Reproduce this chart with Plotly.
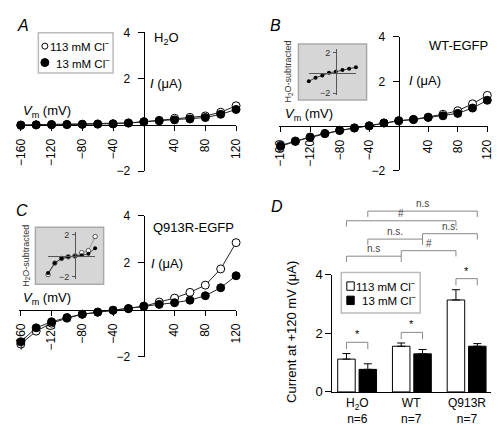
import plotly.graph_objects as go

W, H = 500, 425
FONT = "Liberation Sans, Arial, Helvetica, sans-serif"

# ---------------- data ----------------
voltage = [-160, -140, -120, -100, -80, -60, -40, -20, 0, 20, 40, 60, 80, 100, 120]
a_113 = [-0.02, 0.0, 0.01, 0.02, 0.03, 0.04, 0.05, 0.08, 0.14, 0.20, 0.29, 0.33, 0.39, 0.55, 0.83]
a_13 = [0.00, 0.01, 0.02, 0.02, 0.03, 0.04, 0.05, 0.09, 0.14, 0.18, 0.22, 0.26, 0.32, 0.46, 0.67]
b_113 = [-0.88, -0.68, -0.50, -0.34, -0.20, -0.09, 0.00, 0.13, 0.23, 0.29, 0.39, 0.52, 0.68, 0.99, 1.37]
b_13 = [-0.92, -0.70, -0.52, -0.35, -0.21, -0.10, 0.00, 0.13, 0.23, 0.28, 0.38, 0.45, 0.56, 0.80, 1.15]
c_113 = [-1.47, -0.92, -0.58, -0.37, -0.20, -0.11, -0.03, 0.04, 0.14, 0.32, 0.49, 0.73, 1.04, 1.73, 2.85]
c_13 = [-1.37, -0.78, -0.52, -0.34, -0.20, -0.11, -0.03, 0.04, 0.14, 0.22, 0.29, 0.40, 0.59, 0.93, 1.44]

inset_voltage = [-160, -120, -80, -40, 0, 40, 80, 120]
b_sub_13 = [-0.83, -0.48, -0.26, 0.00, 0.12, 0.29, 0.41, 0.55]
c_sub_113 = [-1.79, -0.69, -0.25, -0.09, 0.00, 0.30, 0.50, 1.85]
c_sub_13 = [-1.65, -0.69, -0.25, -0.09, 0.00, 0.05, 0.20, 0.74]

mv_ticks = [-160, -120, -80, -40, 40, 80, 120]
ua_ticks = [-2, 2, 4]

groups = ["H2O", "WT", "Q913R"]
group_labels = ["H<sub>2</sub>O", "WT", "Q913R"]
group_n = [6, 7, 7]
d_113 = [1.12, 1.56, 3.14]
d_113_err = [0.19, 0.11, 0.35]
d_13 = [0.77, 1.30, 1.56]
d_13_err = [0.19, 0.15, 0.09]
d_ticks = [0, 2, 4]

series_names = ["113 mM Cl<sup>−</sup>", "13 mM Cl<sup>−</sup>"]

# comparisons: (group a, series a, group b, series b, label)
comparisons = [
    ("H2O", 0, "H2O", 1, "*"),
    ("WT", 0, "WT", 1, "*"),
    ("Q913R", 0, "Q913R", 1, "*"),
    ("H2O", 0, "WT", 0, "n.s"),
    ("WT", 0, "Q913R", 0, "#"),
    ("H2O", 1, "WT", 1, "n.s."),
    ("WT", 1, "Q913R", 1, "n.s."),
    ("H2O", 0, "Q913R", 0, "#"),
    ("H2O", 1, "Q913R", 1, "n.s"),
]
# layout (pixel rows) of the brackets, same order
bracket_rows = [339.3, 329.0, 273.3, 250.0, 244.3, 232.3, 226.7, 213.3, 203.3]


def px(x):
    return x / W


def py(y):
    return 1 - y / H


def fmt(v):
    return str(v).replace("-", "\u2212")


fig = go.Figure()

open_marker = dict(symbol="circle", color="white", size=8, line=dict(color="black", width=1))
fill_marker = dict(symbol="circle", color="black", size=8, line=dict(color="black", width=1))
line_style = dict(color="#222", width=1)

for ax, y113, y13 in [("", a_113, a_13), ("2", b_113, b_13), ("3", c_113, c_13)]:
    fig.add_trace(go.Scatter(x=voltage, y=y113, mode="lines+markers", marker=open_marker,
                             line=line_style, cliponaxis=False, showlegend=False,
                             xaxis="x" + ax, yaxis="y" + ax))
    fig.add_trace(go.Scatter(x=voltage, y=y13, mode="lines+markers", marker=fill_marker,
                             line=line_style, cliponaxis=False, showlegend=False,
                             xaxis="x" + ax, yaxis="y" + ax))

# insets
fig.add_trace(go.Scatter(x=inset_voltage, y=b_sub_13, mode="lines+markers",
                         marker=dict(color="black", size=4), line=dict(color="#222", width=0.8),
                         cliponaxis=False, showlegend=False, xaxis="x5", yaxis="y5"))
fig.add_trace(go.Scatter(x=inset_voltage, y=c_sub_113, mode="lines+markers",
                         marker=dict(color="white", size=4.5, line=dict(color="#333", width=0.8)),
                         line=dict(color="#888", width=0.8),
                         cliponaxis=False, showlegend=False, xaxis="x6", yaxis="y6"))
fig.add_trace(go.Scatter(x=inset_voltage, y=c_sub_13, mode="lines+markers",
                         marker=dict(color="black", size=4), line=dict(color="#222", width=0.8),
                         cliponaxis=False, showlegend=False, xaxis="x6", yaxis="y6"))

# bars (panel D)
gx = list(range(len(groups)))
fig.add_trace(go.Bar(x=gx, y=d_113, name=series_names[0], marker=dict(color="white", line=dict(color="black", width=1)),
                     error_y=dict(type="data", array=d_113_err, arrayminus=[0] * 3, symmetric=False,
                                  color="black", thickness=1, width=4),
                     showlegend=False, xaxis="x4", yaxis="y4"))
fig.add_trace(go.Bar(x=gx, y=d_13, name=series_names[1], marker=dict(color="black", line=dict(color="black", width=1)),
                     error_y=dict(type="data", array=d_13_err, arrayminus=[0] * 3, symmetric=False,
                                  color="black", thickness=1, width=4),
                     showlegend=False, xaxis="x4", yaxis="y4"))

axis_common = dict(showline=True, linecolor="black", linewidth=1.3, showgrid=False, zeroline=False,
                   ticks="outside", tickcolor="black", tickwidth=1.3,
                   tickfont=dict(size=12, color="black", family=FONT))


def iv_x(d0, d1, pos):
    return dict(axis_common, domain=[px(d0), px(d1)], range=[-162, 120.5], anchor="free", position=pos,
                tickvals=mv_ticks, ticktext=[fmt(v) for v in mv_ticks], tickangle=-90, ticklen=5,
                ticklabelstandoff=3)


def iv_y(t, b, pos):
    return dict(axis_common, domain=[py(b), py(t)], range=[-2, 4], anchor="free", position=pos,
                tickvals=ua_ticks, ticktext=[fmt(v) for v in ua_ticks], ticklen=6, ticklabelstandoff=5)


inset_common = dict(showline=True, linecolor="#555", linewidth=0.8, showgrid=False, zeroline=False,
                    tickfont=dict(size=9, color="#333", family=FONT))

fig.update_layout(
    width=W, height=H, margin=dict(l=0, r=0, t=0, b=0),
    paper_bgcolor="white", plot_bgcolor="rgba(0,0,0,0)",
    font=dict(family=FONT, color="black", size=12),
    barmode="group", bargap=0.22, bargroupgap=0.18,
    xaxis=iv_x(5.4, 228.4, py(114)),
    yaxis=iv_y(18, 162, px(133.3)),
    xaxis2=iv_x(272.2, 486.3, py(114.9)),
    yaxis2=iv_y(22.7, 161, px(395)),
    xaxis3=iv_x(5.4, 228.4, py(305.3)),
    yaxis3=iv_y(208, 354, px(133.3)),
    xaxis4=dict(axis_common, domain=[px(327), px(490)], range=[-0.45, 2.45], anchor="y4",
                tickvals=gx, showticklabels=False, ticks=""),
    yaxis4=dict(axis_common, domain=[py(390.7), py(269.3)], range=[0, 4], anchor="x4",
                tickvals=d_ticks, ticktext=[str(v) for v in d_ticks], ticklen=6,
                tickfont=dict(size=13, color="black", family=FONT)),
    xaxis5=dict(inset_common, domain=[px(302.7), px(351)], range=[-160, 120], anchor="free",
                position=py(59.7), showticklabels=False, ticks=""),
    yaxis5=dict(inset_common, domain=[py(83.3), py(35)], range=[-2.22, 2.38], anchor="free",
                position=px(330.5), tickvals=[-2, 2], ticktext=["\u22122", "2"], ticks="outside",
                ticklen=3, tickcolor="#555", tickwidth=0.8, ticklabelstandoff=1),
    xaxis6=dict(inset_common, domain=[px(35), px(83.3)], range=[-160, 120], anchor="free",
                position=py(249.7), showticklabels=False, ticks=""),
    yaxis6=dict(inset_common, domain=[py(273.3), py(225)], range=[-2.18, 2.28], anchor="free",
                position=px(62.6), tickvals=[-2, 2], ticktext=["\u22122", "2"], ticks="outside",
                ticklen=3, tickcolor="#555", tickwidth=0.8, ticklabelstandoff=1),
)

shapes = []
annotations = []


def text(x, y, s, size=13, xanchor="left", yanchor="middle", color="black", angle=0):
    annotations.append(dict(x=px(x), y=py(y), xref="paper", yref="paper", text=s, showarrow=False,
                            xanchor=xanchor, yanchor=yanchor, textangle=angle, borderpad=0,
                            font=dict(size=size, color=color, family=FONT)))


# inset boxes
for x0, y0, x1, y1 in [(292, 30, 362, 88), (22, 220, 92, 279)]:
    shapes.append(dict(type="rect", xref="paper", yref="paper", x0=px(x0), x1=px(x1), y0=py(y1), y1=py(y0),
                       fillcolor="#d6d6d6", line=dict(color="#aaaaaa", width=1.5), layer="below"))

# panel letters
text(2, 11, "<i>A</i>", size=16)
text(262, 11, "<i>B</i>", size=16)
text(1, 203, "<i>C</i>", size=16)
text(263, 198, "<i>D</i>", size=16)

vm = "<i>V</i><sub>m</sub> (mV)"
ia = "<i>I</i> (\u03bcA)"
text(143, 24, "H<sub>2</sub>O")
text(139, 71, ia)
text(8, 100, vm)
text(425, 32, "WT-EGFP")
text(405, 68, ia)
text(277, 103, vm)
text(142, 220, "Q913R-EGFP")
text(140, 257.7, ia)
text(8, 294, vm)
text(282, 59, "H<sub>2</sub>O-subtracted", size=9, xanchor="center", angle=-90, color="#333")
text(12, 250, "H<sub>2</sub>O-subtracted", size=9, xanchor="center", angle=-90, color="#333")

# panel D y title
text(285, 329, "Current at +120 mV (\u03bcA)", size=13, xanchor="center", angle=-90)

# category names with group sizes under the bars
for i, (lab, n) in enumerate(zip(group_labels, group_n)):
    annotations.append(dict(x=i, y=py(410.5), xref="x4", yref="paper", text="%s<br>n=%d" % (lab, n),
                            showarrow=False, xanchor="center", yanchor="middle", borderpad=0,
                            font=dict(size=12, color="black", family=FONT)))

# legend panel A
shapes.append(dict(type="rect", xref="paper", yref="paper", x0=px(25), x1=px(101.7), y0=py(60), y1=py(18.3),
                   fillcolor="white", line=dict(color="#bbbbbb", width=1.5)))
for yy, fill, r in [(32.3, "white", 3), (49.3, "black", 4)]:
    shapes.append(dict(type="circle", xref="paper", yref="paper", xsizemode="pixel", ysizemode="pixel",
                       xanchor=px(31.7), yanchor=py(yy), x0=-r, x1=r, y0=-r, y1=r,
                       fillcolor=fill, line=dict(color="black", width=1)))
text(100, 32.3, series_names[0], size=11.5, xanchor="right")
text(100, 49.3, series_names[1], size=11.5, xanchor="right")

# legend panel D
shapes.append(dict(type="rect", xref="paper", yref="paper", x0=px(336), x1=px(417), y0=py(309), y1=py(267),
                   fillcolor="white", line=dict(color="#bbbbbb", width=1.5)))
for yy, fill in [(281, "white"), (295.8, "black")]:
    shapes.append(dict(type="rect", xref="paper", yref="paper", xsizemode="pixel", ysizemode="pixel",
                       xanchor=px(345.5), yanchor=py(yy), x0=-3.7, x1=3.7, y0=-4.2, y1=4.2,
                       fillcolor=fill, line=dict(color="black", width=1)))
text(414, 281, series_names[0], size=11.5, xanchor="right")
text(414, 295.8, series_names[1], size=11.5, xanchor="right")

# significance brackets
off = 0.195
for (ga, sa, gb, sb, lab), row in zip(comparisons, bracket_rows):
    xa = groups.index(ga) + (-off if sa == 0 else off)
    xb = groups.index(gb) + (-off if sb == 0 else off)
    drop = 7 if lab == "*" else 6
    path = "M {a},{d} L {a},{t} L {b},{t} L {b},{d}".format(a=xa, b=xb, t=py(row), d=py(row + drop))
    shapes.append(dict(type="path", xref="x4", yref="paper", path=path,
                       line=dict(color="#888888", width=1)))
    xm = (xa + xb) / 2
    annotations.append(dict(x=xm, y=py(row - 1), xref="x4", yref="paper", text=lab, showarrow=False,
                            xanchor="center", yanchor="bottom", borderpad=0,
                            font=dict(size=10 if lab != "*" else 11, color="#444" if lab != "*" else "black",
                                      family=FONT)))

fig.update_layout(shapes=shapes, annotations=annotations)
fig.write_html("out.html")
